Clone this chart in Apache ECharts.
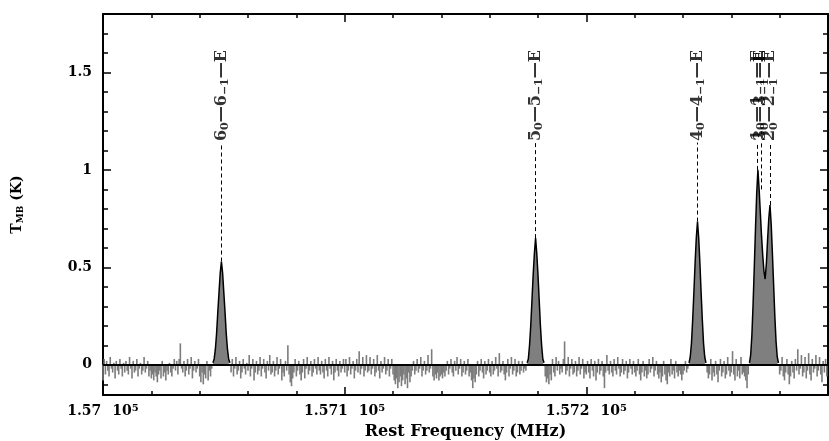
<!DOCTYPE html>
<html><head><meta charset="utf-8">
<script src="https://cdn.jsdelivr.net/npm/echarts@6/dist/echarts.min.js"></script>
<style>html,body{margin:0;padding:0;background:#fff}#c{width:829px;height:441px}</style>
</head><body><div id="c"></div>
<script>
// ---- data ----
const freqStart = 157000;      // MHz, first channel
const chanWidth = 0.5;         // MHz per channel
// baseline noise (K), 0.5 MHz channels, 157000 - 157299.5 MHz (0 where lines are)
const noise = [
-0.08,0.03,-0.05,0.02,-0.03,-0.06,0.04,-0.02,-0.04,0.01,-0.07,0.02,-0.03,-0.05,0.03,-0.02,-0.06,0.01,-0.04,0.02,
-0.03,-0.05,0.04,-0.02,-0.07,0.02,-0.04,-0.03,0.03,-0.06,-0.02,0.01,-0.05,-0.03,0.04,-0.04,-0.02,0.02,-0.06,-0.03,
-0.07,-0.05,-0.08,-0.04,-0.06,-0.09,-0.05,-0.03,-0.07,0.02,-0.06,-0.04,-0.08,-0.03,-0.05,0.01,-0.04,-0.06,-0.02,0.03,
-0.03,0.02,-0.05,0.03,0.11,-0.02,-0.04,0.02,-0.06,-0.03,0.03,-0.05,-0.02,0.04,-0.07,-0.03,0.02,-0.04,-0.02,0.03,
-0.06,-0.09,-0.04,-0.10,-0.05,-0.07,0.02,-0.08,-0.03,-0.06,-0.02,0,0,0,0,0,0,0,0,0,
0,0,0,0,0,0,-0.04,0.03,-0.06,-0.02,0.04,-0.05,-0.03,0.02,-0.07,-0.04,0.03,-0.02,-0.05,0.01,
-0.03,0.05,-0.06,-0.02,0.03,-0.08,-0.04,0.02,-0.05,-0.03,0.04,-0.06,-0.02,0.03,-0.04,-0.07,0.02,-0.03,0.05,-0.05,
-0.04,0.02,-0.06,-0.03,0.04,-0.05,-0.02,0.03,-0.08,-0.04,-0.06,0.02,-0.03,0.10,-0.05,-0.09,-0.11,-0.07,-0.04,0.03,
-0.06,-0.03,0.02,-0.05,-0.08,-0.04,0.03,-0.07,-0.02,0.04,-0.05,-0.03,0.02,-0.06,-0.04,0.03,-0.02,-0.05,0.04,-0.03,
-0.05,0.02,-0.04,-0.07,0.03,-0.03,-0.06,0.04,-0.02,-0.05,0.02,-0.08,-0.04,0.03,-0.03,-0.06,0.02,-0.04,-0.02,0.03,
-0.04,0.03,-0.06,-0.03,0.04,-0.05,-0.02,0.02,-0.07,-0.03,0.03,-0.04,0.07,-0.05,-0.02,0.04,-0.06,-0.03,0.05,-0.04,
-0.03,0.04,-0.05,-0.02,0.03,-0.06,-0.04,0.05,-0.03,-0.07,0.02,-0.04,-0.02,0.04,-0.05,-0.03,0.03,-0.06,-0.02,0.03,
-0.05,-0.08,-0.10,-0.07,-0.12,-0.09,-0.06,-0.11,-0.08,-0.05,-0.10,-0.07,-0.12,-0.04,-0.09,-0.06,-0.03,0.02,-0.05,-0.03,
0.03,-0.04,-0.02,0.04,-0.06,-0.03,0.02,-0.05,-0.03,0.05,-0.04,-0.02,0.08,-0.06,-0.08,-0.05,-0.07,-0.04,-0.08,-0.06,
-0.05,-0.07,-0.04,-0.06,-0.03,0.02,-0.05,-0.02,0.03,-0.04,-0.06,0.02,-0.03,0.04,-0.05,-0.02,0.03,-0.06,-0.04,0.02,
-0.05,-0.03,0.03,-0.06,-0.04,-0.08,-0.12,-0.07,-0.09,-0.05,0.02,-0.06,-0.03,0.03,-0.04,-0.07,0.02,-0.05,-0.03,0.03,
-0.04,-0.06,0.02,-0.05,-0.03,0.04,-0.02,-0.06,0.06,-0.04,-0.03,0.02,-0.05,-0.08,-0.04,0.03,-0.06,-0.02,0.04,-0.05,
-0.03,0.03,-0.06,-0.04,0.02,-0.05,-0.03,0.02,-0.04,-0.02,-0.03,0,0,0,0,0,0,0,0,0,
0,0,0,0,0,0,-0.06,-0.09,-0.07,-0.10,-0.05,-0.08,0.03,-0.04,-0.06,0.04,-0.03,0.02,-0.05,-0.02,
-0.04,0.03,0.12,-0.05,-0.03,0.04,-0.06,-0.02,0.03,-0.05,-0.04,0.02,-0.06,-0.03,0.04,-0.05,-0.02,0.03,-0.07,-0.04,
-0.05,0.02,-0.04,-0.07,0.03,-0.03,-0.06,0.02,-0.08,-0.04,0.03,-0.05,-0.03,0.02,-0.06,-0.12,-0.04,0.05,-0.03,-0.05,
0.02,-0.04,-0.06,0.03,-0.03,-0.05,0.04,-0.02,-0.06,-0.04,0.03,-0.05,-0.03,0.02,-0.07,-0.04,0.03,-0.02,-0.05,0.02,
-0.04,-0.06,-0.03,0.03,-0.05,-0.08,-0.04,0.02,-0.06,-0.03,-0.07,-0.05,0.03,-0.04,-0.02,0.04,-0.06,-0.03,0.02,-0.05,
-0.07,-0.04,-0.09,-0.06,0.02,-0.05,-0.08,-0.10,-0.04,-0.06,0.03,-0.05,-0.03,-0.07,0.02,-0.04,-0.06,-0.03,-0.05,-0.08,
-0.05,-0.03,0.02,-0.04,-0.02,0,0,0,0,0,0,0,0,0,0,0,0,0,0,0,
-0.04,-0.07,-0.05,0.03,-0.08,-0.04,-0.06,0.02,-0.05,-0.09,-0.03,0.03,-0.06,-0.04,0.02,-0.07,-0.05,0.04,-0.03,-0.06,
-0.04,0.07,-0.05,-0.08,0.03,-0.06,-0.03,-0.07,0.04,-0.05,-0.04,-0.06,-0.08,-0.12,-0.05,0,0,0,0,0,
0,0,0,0,0,0,0,0,0,0,0,0,0,0,0,0,0,0,0,0,
-0.05,-0.03,0.04,-0.06,-0.08,-0.04,0.03,-0.05,-0.10,-0.06,0.02,-0.04,-0.07,0.03,-0.03,0.08,-0.05,-0.02,0.05,-0.06,
-0.04,0.04,-0.07,-0.03,0.06,-0.05,-0.08,0.03,-0.04,-0.02,0.05,-0.06,-0.03,0.04,-0.05,-0.09,0.02,-0.04,0.03,-0.06
];
// emission lines (K), 0.5 MHz channels starting at the given frequency
const line6Start = 157045.5;
const line6 = [0.01,0.03,0.08,0.16,0.27,0.37,0.47,0.53,0.47,0.37,0.27,0.16,0.08,0.03,0.01];
const line5Start = 157175.5;
const line5 = [0.01,0.03,0.10,0.20,0.33,0.46,0.57,0.65,0.57,0.46,0.33,0.20,0.10,0.03,0.01];
const line4Start = 157242.5;
const line4 = [0.01,0.04,0.11,0.23,0.37,0.52,0.65,0.735,0.65,0.52,0.37,0.23,0.11,0.04,0.01];
const blendStart = 157267.5;
const blend = [0.01,0.05,0.15,0.31,0.50,0.70,0.88,1.0,0.90,0.78,0.66,0.56,0.48,0.44,0.52,0.64,0.75,0.82,0.72,0.57,0.41,0.25,0.12,0.04,0.01];
// line identifications
const lineFreqs = [157049.0, 157179.0, 157246.1, 157270.9, 157272.4, 157276.1];
const lineLabels = ['6{s|0}—6{s|−1}—E','5{s|0}—5{s|−1}—E','4{s|0}—4{s|−1}—E','1{s|0}—1{s|−1}—E','3{s|0}—3{s|−1}—E','2{s|0}—2{s|−1}—E'];
const lineTops = [0.53, 0.65, 0.735, 1.0, 0.9, 0.82];
// axes
const xMin = 157000, xMax = 157300, xStep = 100;
const yMin = -0.155, yMax = 1.8;
const yMajorTicks = [0, 0.5, 1, 1.5];
const yMinorTicks = [-0.1,0,0.1,0.2,0.3,0.4,0.5,0.6,0.7,0.8,0.9,1.0,1.1,1.2,1.3,1.4,1.5,1.6,1.7];

// ---- build ----
const FONT = 'DejaVu Serif';
const chan = (start, arr) => arr.map((v, i) => [start + i * chanWidth, v]);
const noiseData = chan(freqStart, noise);
const labelAnchor = 1.615, dashTop = 1.14;

const peakSeries = [[line6Start,line6],[line5Start,line5],[line4Start,line4],[blendStart,blend]].map(([s,a]) => ({
  type: 'line', data: chan(s, a), symbol: 'none', z: 3, smooth: false,
  lineStyle: {color: '#000', width: 1.5},
  areaStyle: {color: '#7f7f7f', opacity: 1, origin: 0},
  silent: true, animation: false
}));

const baseAxisLine = {show: true, onZero: false, lineStyle: {color: '#000', width: 2}};
const tickStyle = {color: '#000', width: 1.5};

const option = {
  animation: false,
  grid: {left: 103, right: 1, top: 14, bottom: 46, containLabel: false, outerBoundsMode: 'none'},
  xAxis: [
    {type: 'value', position: 'bottom', min: xMin, max: xMax, interval: xStep,
     axisLine: baseAxisLine, splitLine: {show: false},
     axisTick: {inside: true, length: 8, lineStyle: tickStyle},
     minorTick: {show: true, splitNumber: 5, length: 4, lineStyle: tickStyle},
     axisLabel: {margin: 8, showMaxLabel: false, color: '#000',
       formatter: v => '{a|' + (v / 1e5) + '}{g|10}{b|5}',
       rich: {
         a: {fontFamily: FONT, fontWeight: 'bold', fontSize: 14, lineHeight: 16, color: '#000'},
         g: {fontFamily: FONT, fontWeight: 'bold', fontSize: 14, lineHeight: 16, color: '#000', padding: [0,0,0,11]},
         b: {fontFamily: FONT, fontWeight: 'bold', fontSize: 10, lineHeight: 10, color: '#000', verticalAlign: 'top', padding: [0,0,6,0]}
       }},
     name: 'Rest Frequency (MHz)', nameLocation: 'middle', nameGap: 27,
     nameTextStyle: {fontFamily: FONT, fontWeight: 'bold', fontSize: 16, color: '#000'}
    },
    {type: 'value', position: 'top', min: xMin, max: xMax, interval: xStep,
     axisLine: baseAxisLine, splitLine: {show: false}, axisLabel: {show: false},
     axisTick: {inside: true, length: 8, lineStyle: tickStyle},
     minorTick: {show: true, splitNumber: 5, length: 4, lineStyle: tickStyle}}
  ],
  yAxis: [
    {type: 'value', position: 'left', min: yMin, max: yMax,
     axisLine: baseAxisLine, splitLine: {show: false},
     axisTick: {inside: true, length: 8, lineStyle: tickStyle, customValues: yMajorTicks},
     axisLabel: {customValues: yMajorTicks, margin: 11, color: '#000', fontFamily: FONT, fontWeight: 'bold', fontSize: 14,
       formatter: v => String(v)},
     name: '{t|T}{s|MB}{t| (K)}', nameLocation: 'middle', nameRotate: 90, nameGap: 78,
     nameTextStyle: {rich: {
       t: {fontFamily: FONT, fontWeight: 'bold', fontSize: 14, lineHeight: 16, color: '#000'},
       s: {fontFamily: FONT, fontWeight: 'bold', fontSize: 9, lineHeight: 16, color: '#000', verticalAlign: 'bottom'}
     }}},
    {type: 'value', position: 'left', min: yMin, max: yMax,
     axisLine: {show: false}, splitLine: {show: false}, axisLabel: {show: false},
     axisTick: {inside: true, length: 5, lineStyle: tickStyle, customValues: yMinorTicks}},
    {type: 'value', position: 'right', min: yMin, max: yMax,
     axisLine: baseAxisLine, splitLine: {show: false}, axisLabel: {show: false},
     axisTick: {inside: true, length: 8, lineStyle: tickStyle, customValues: yMajorTicks}},
    {type: 'value', position: 'right', min: yMin, max: yMax,
     axisLine: {show: false}, splitLine: {show: false}, axisLabel: {show: false},
     axisTick: {inside: true, length: 5, lineStyle: tickStyle, customValues: yMinorTicks}}
  ],
  series: [
    {type: 'bar', data: noiseData, barWidth: 1.6, itemStyle: {color: '#7c7c7c'}, silent: true, z: 2},
    ...peakSeries,
    {type: 'scatter', symbolSize: 0, z: 5, silent: true,
     data: lineFreqs.map((f, i) => ({value: [f, labelAnchor], label: {formatter: lineLabels[i]}})),
     label: {show: true, position: 'top', distance: 0, rotate: 90, align: 'right', verticalAlign: 'middle',
       color: '#000', fontFamily: FONT, fontWeight: 'bold', fontSize: 16,
       rich: {s: {fontFamily: FONT, fontWeight: 'bold', fontSize: 11, lineHeight: 18, color: '#000', verticalAlign: 'bottom'}}},
     markLine: {silent: true, symbol: 'none', animation: false, label: {show: false},
       data: [
         {yAxis: 0, lineStyle: {color: '#000', width: 2, type: 'solid'}},
         ...lineFreqs.map((f, i) => [
           {coord: [f, lineTops[i]], lineStyle: {color: '#000', width: 1, type: [4, 3]}},
           {coord: [f, dashTop]}
         ])
       ]}
    }
  ]
};
echarts.init(document.getElementById('c'), null, {renderer: 'canvas'}).setOption(option);
</script></body></html>
